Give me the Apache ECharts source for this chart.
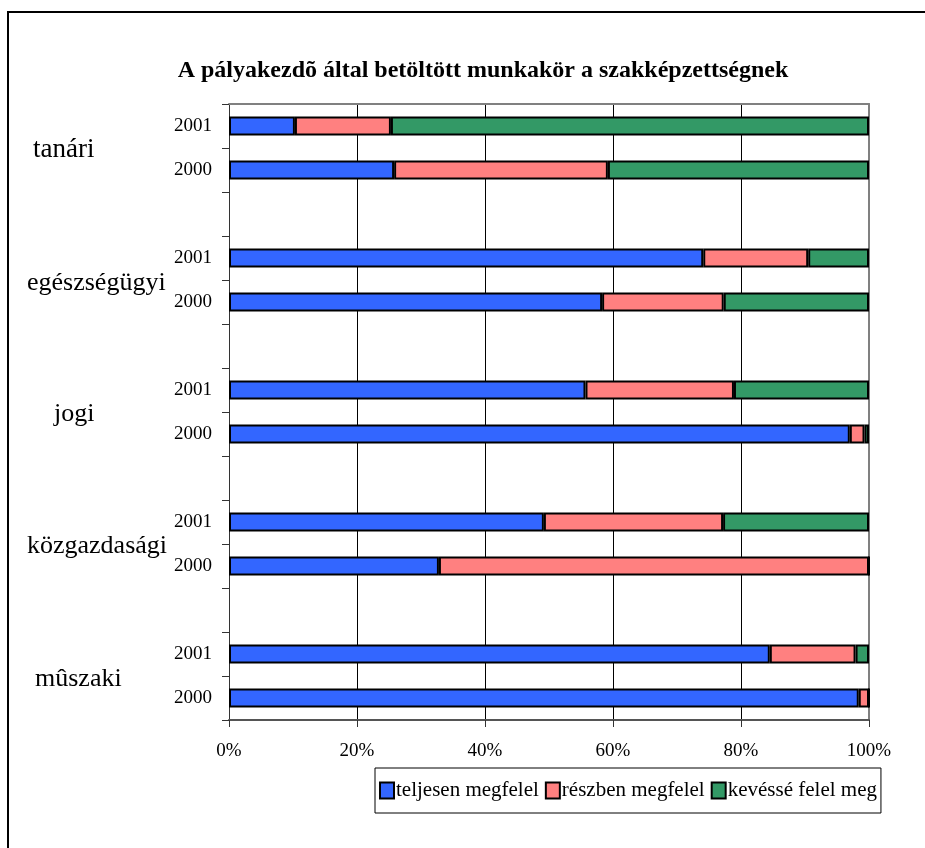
<!DOCTYPE html>
<html>
<head>
<meta charset="utf-8">
<script src="https://cdn.jsdelivr.net/npm/echarts@6/dist/echarts.min.js"></script>
<style>
html,body{margin:0;padding:0;background:#fff;}
#chart{width:925px;height:848px;}
</style>
</head>
<body>
<div id="chart"></div>
<script>
// Row keys (top to bottom); empty string = spacer row
const rowGroups = ['tanári','tanári','', 'egészségügyi','egészségügyi','', 'jogi','jogi','', 'közgazdasági','közgazdasági','', 'mûszaki','mûszaki'];
const rowYears  = ['2001','2000','', '2001','2000','', '2001','2000','', '2001','2000','', '2001','2000'];
const seriesNames = ['teljesen megfelel','részben megfelel','kevéssé felel meg'];
const teljesen = [10.3, 25.8, null, 74.1, 58.3, null, 55.7, 97.0, null, 49.2, 32.8, null, 84.5, 98.4];
const reszben  = [15.0, 33.4, null, 16.4, 19.0, null, 23.2,  2.3, null, 28.0, 67.2, null, 13.4,  1.6];
const keveske  = [74.7, 40.8, null,  9.5, 22.7, null, 21.1,  0.7, null, 22.8,  0.0, null,  2.1,  0.0];
const xTicks = [0, 20, 40, 60, 80, 100];

const colors = ['#3366FF', '#FF8080', '#339966'];
const FONT = '"Liberation Serif", "Times New Roman", serif';
const categories = rowGroups.map((g, i) => g ? g + ' ' + rowYears[i] : 'sp' + i);

const groupRich = {
  'tanári':       {pad: 6,  top: 48, size: 27},
  'egészségügyi': {pad: 0,  top: 50, size: 26},
  'jogi':         {pad: 27, top: 48, size: 26},
  'közgazdasági': {pad: 0,  top: 48, size: 26},
  'mûszaki':      {pad: 8,  top: 50, size: 26}
};
const rich = {};
Object.keys(groupRich).forEach((k, idx) => {
  rich['g' + idx] = {fontFamily: FONT, fontSize: groupRich[k].size, color: '#000', padding: [groupRich[k].top, 0, 0, groupRich[k].pad]};
});
const groupKeys = Object.keys(groupRich);

const chart = echarts.init(document.getElementById('chart'), null, {renderer: 'canvas'});
const mk = (name, data, c) => ({
  name: name, type: 'bar', stack: 'all', data: data,
  barWidth: 19,
  itemStyle: {color: c, borderColor: '#000', borderWidth: 2},
  emphasis: {disabled: true}
});

chart.setOption({
  animation: false,
  backgroundColor: '#fff',
  title: {
    text: 'A pályakezdõ által betöltött munkakör a szakképzettségnek',
    left: 478, top: 54, textAlign: 'center',
    textStyle: {fontFamily: FONT, fontSize: 24, fontWeight: 'bold', color: '#000'}
  },
  graphic: [{
    type: 'rect', shape: {x: 8, y: 12, width: 1000, height: 1000},
    style: {fill: 'none', stroke: '#000', lineWidth: 2}, silent: true
  }],
  legend: {
    data: seriesNames,
    left: 375, top: 768,
    padding: [12, 4, 12, 4],
    itemGap: 6,
    itemWidth: 14, itemHeight: 16,
    icon: 'rect',
    backgroundColor: '#fff',
    borderColor: '#000', borderWidth: 1,
    textStyle: {fontFamily: FONT, fontSize: 21, color: '#000', padding: [0, 0, 0, -3]},
    itemStyle: {borderColor: '#000', borderWidth: 2}
  },
  grid: {left: 229, right: 56, top: 104, bottom: 128, containLabel: false},
  xAxis: [{
    type: 'value', min: 0, max: 100, interval: 20,
    axisLine: {show: true, lineStyle: {color: '#555', width: 2}},
    axisTick: {show: true, length: 7, lineStyle: {color: '#333'}},
    axisLabel: {fontFamily: FONT, fontSize: 19, color: '#000', margin: 22,
      formatter: v => xTicks.indexOf(v) >= 0 ? v + '%' : ''},
    splitLine: {show: true, lineStyle: {color: ['#000','#000','#000','#000','#000','#808080'], width: 1}}
  }, {
    type: 'value', min: 0, max: 100, position: 'top',
    axisLine: {show: true, lineStyle: {color: '#808080', width: 2}},
    axisTick: {show: false}, axisLabel: {show: false}, splitLine: {show: false}
  }],
  yAxis: [{
    type: 'category', data: categories, inverse: true,
    axisLine: {show: true, lineStyle: {color: '#333', width: 1}},
    axisTick: {show: true, length: 7, lineStyle: {color: '#333'}},
    axisLabel: {fontFamily: FONT, fontSize: 19, color: '#000', margin: 17,
      formatter: (v, i) => rowYears[i]},
    splitLine: {show: false}
  }, {
    type: 'category', data: categories, inverse: true, position: 'left',
    axisLine: {show: false}, axisTick: {show: false},
    axisLabel: {
      align: 'left', margin: 202, interval: 0,
      formatter: (v, i) => {
        if (rowYears[i] === '2001') {
          const gi = groupKeys.indexOf(rowGroups[i]);
          return '{g' + gi + '|' + rowGroups[i] + '}';
        }
        return '';
      },
      rich: rich
    }
  }, {
    type: 'category', data: categories, inverse: true, position: 'right',
    axisLine: {show: true, lineStyle: {color: '#808080', width: 2}},
    axisTick: {show: false}, axisLabel: {show: false}
  }],
  series: [
    mk(seriesNames[0], teljesen, colors[0]),
    mk(seriesNames[1], reszben, colors[1]),
    mk(seriesNames[2], keveske, colors[2])
  ]
});
</script>
</body>
</html>
